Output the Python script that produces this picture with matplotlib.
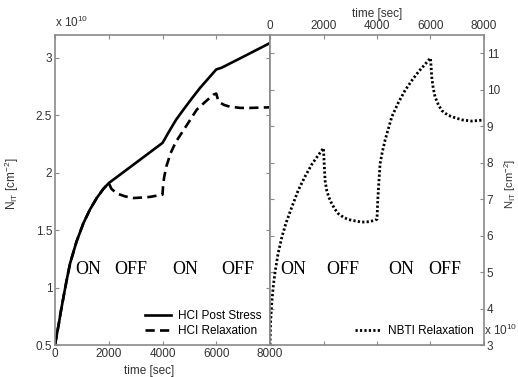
import matplotlib
matplotlib.use("Agg")
import matplotlib.pyplot as plt
import numpy as np

# ---- data (units of 1e10 cm^-2) ----
post_t = [0, 60, 160, 223, 310, 430, 560, 800, 1055, 1300, 1552, 1800, 2000,
          3000, 4000, 4100, 4220, 4500, 4779, 5100, 5400, 5700, 6000, 6200, 7000, 8000]
post_v = [0.5, 0.58, 0.71, 0.8, 0.91, 1.06, 1.21, 1.40, 1.56, 1.68, 1.78, 1.86, 1.91,
          2.085, 2.26, 2.30, 2.35, 2.46, 2.55, 2.65, 2.74, 2.82, 2.90, 2.915, 3.01, 3.13]

relax_t = [0, 60, 160, 223, 310, 430, 560, 800, 1055, 1300, 1552, 1800, 2000,
           2100, 2300, 2600, 2916, 3300, 3537, 4000, 4020, 4060, 4150, 4300, 4500, 4779,
           5000, 5276, 5600, 5896, 6000, 6060, 6145, 6300, 6517, 6900, 7262, 8000]
relax_v = [0.5, 0.58, 0.71, 0.8, 0.91, 1.06, 1.21, 1.40, 1.56, 1.68, 1.78, 1.86, 1.91,
           1.86, 1.82, 1.795, 1.78, 1.785, 1.79, 1.81, 1.88, 1.96, 2.06, 2.17, 2.27, 2.37,
           2.45, 2.55, 2.62, 2.68, 2.69, 2.64, 2.61, 2.59, 2.575, 2.565, 2.565, 2.57]

nbti_t = [0, 20, 60, 120, 190, 300, 440, 600, 810, 1060, 1310, 1560, 1800, 2000,
          2030, 2060, 2120, 2200, 2306, 2430, 2555, 2750, 2929, 3200, 3428, 3700, 3926, 4000,
          4030, 4114, 4200, 4300, 4550, 4800, 5049, 5300, 5548, 5800, 6000,
          6046, 6100, 6171, 6300, 6420, 6650, 6919, 7200, 7542, 8000]
nbti_v = [3.0, 3.6, 4.1, 4.6, 5.0, 5.5, 5.95, 6.35, 6.77, 7.25, 7.62, 7.95, 8.2, 8.4,
          7.9, 7.5, 7.24, 7.05, 6.88, 6.72, 6.6, 6.5, 6.44, 6.4, 6.37, 6.38, 6.42, 6.45,
          7.0, 7.97, 8.3, 8.61, 9.25, 9.65, 9.98, 10.25, 10.49, 10.7, 10.87,
          10.35, 10.05, 9.8, 9.58, 9.43, 9.3, 9.23, 9.17, 9.14, 9.17]

x_ticks = [0, 2000, 4000, 6000, 8000]
left_yticks = [0.5, 1, 1.5, 2, 2.5, 3]
left_ylabels = ["0.5", "1", "1.5", "2", "2.5", "3"]
right_yticks = [3, 4, 5, 6, 7, 8, 9, 10, 11]
phase_labels = ["ON", "OFF", "ON", "OFF"]

plt.rcParams['font.family'] = ['Liberation Sans', 'DejaVu Sans']
plt.rcParams['mathtext.fontset'] = 'custom'
plt.rcParams['mathtext.rm'] = 'Liberation Sans'
plt.rcParams['mathtext.it'] = 'Liberation Sans'

W, H = 518, 377
fig = plt.figure(figsize=(W / 100, H / 100), dpi=100)
spine_c = '#8a8a8a'
text_c = '#333333'

def px(x0, y0, x1, y1):
    return [x0 / W, 1 - y1 / H, (x1 - x0) / W, (y1 - y0) / H]

axL = fig.add_axes(px(55, 35, 270, 345))
axR = fig.add_axes(px(270, 35, 484, 345))

for ax in (axL, axR):
    for s in ax.spines.values():
        s.set_color(spine_c)
        s.set_linewidth(1.2)
    ax.tick_params(direction='in', length=3, color=spine_c, labelcolor=text_c,
                   labelsize=8.5, top=True, right=True, bottom=True, left=True, width=0.8)
    ax.set_xlim(0, 8000)
    ax.set_xticks(x_ticks)

# Left axes
axL.plot(post_t, post_v, color='black', lw=1.9, label='HCI Post Stress')
axL.plot(relax_t, relax_v, color='black', lw=1.9, ls=(0, (3.5, 2)), label='HCI Relaxation')
axL.set_ylim(0.5, 3.2)
axL.set_yticks(left_yticks)
axL.set_yticklabels(left_ylabels)
axL.tick_params(axis='x', pad=2)
axL.tick_params(axis='y', pad=2)
axL.set_xlabel('time [sec]', fontsize=8.5, color=text_c, labelpad=0)
axL.xaxis.set_label_coords(0.44, -0.065)
axL.set_ylabel('N$_{IT}$ [cm$^{-2}$]', fontsize=8.5, color=text_c, labelpad=10)
axL.yaxis.set_label_coords(-0.16, 0.52)
axL.text(0.0, 1.015, 'x 10$^{10}$', transform=axL.transAxes, fontsize=8.5, color=text_c,
         ha='left', va='bottom')
axL.legend(loc='lower right', bbox_to_anchor=(1.0, 0.0), frameon=False, fontsize=8.5,
           handlelength=2.2, handletextpad=0.6, labelspacing=0.2, borderaxespad=0.3)

# Right axes
axR.plot(nbti_t, nbti_v, color='black', lw=2.0, ls=(0, (0.8, 0.8)), label='NBTI Relaxation')
axR.set_ylim(3, 11.5)
axR.set_yticks(right_yticks)
axR.yaxis.tick_right()
axR.yaxis.set_ticks_position('both')
axR.xaxis.tick_top()
axR.xaxis.set_ticks_position('both')
axR.tick_params(labelleft=False, labelbottom=False, labeltop=True, labelright=True, pad=2)
axR.xaxis.set_label_position('top')
axR.set_xlabel('time [sec]', fontsize=8.5, color=text_c, labelpad=2)
axR.yaxis.set_label_position('right')
axR.set_ylabel('N$_{IT}$ [cm$^{-2}$]', fontsize=8, color=text_c, rotation=90)
axR.yaxis.set_label_coords(1.085, 0.52)
axR.text(1.0, 0.022, 'x 10$^{10}$', transform=axR.transAxes, fontsize=8.5, color=text_c,
         ha='left', va='bottom')
axR.legend(loc='lower right', bbox_to_anchor=(0.99, 0.0), frameon=False, fontsize=8.5,
           handlelength=2.2, handletextpad=0.6, borderaxespad=0.3)

# ON / OFF phase annotations
serif = ['Liberation Serif', 'DejaVu Serif']
for x, s in zip([88, 131, 185, 238], phase_labels):
    fig.text(x / W, 1 - 270 / H, s, family=serif, fontsize=13, ha='center', va='center')
for x, s in zip([293, 343, 401, 445], phase_labels):
    fig.text(x / W, 1 - 270 / H, s, family=serif, fontsize=13, ha='center', va='center')

fig.savefig('out.png', dpi=100)
